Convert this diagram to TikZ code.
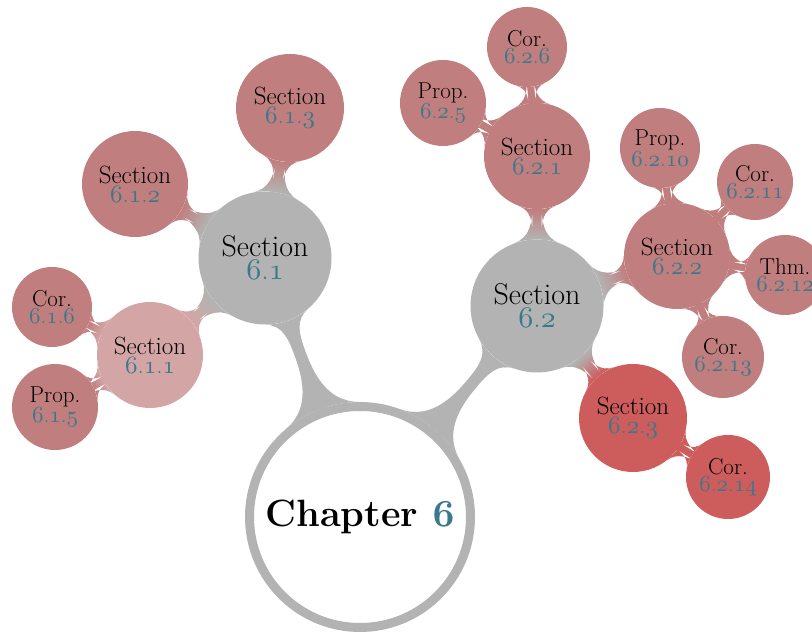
\documentclass[tikz,border=0pt]{standalone}
\usetikzlibrary{mindmap,backgrounds}

\DeclareFontFamily{OML}{oldcmm}{\skewchar\font=127}
\DeclareFontShape{OML}{oldcmm}{m}{it}{<->cmmi10}{}
\DeclareFontShape{OML}{oldcmm}{b}{it}{<->cmmib10}{}

\definecolor{secgray}{RGB}{179,179,179}
\definecolor{secpink}{RGB}{193,126,126}
\definecolor{secpale}{RGB}{212,165,165}
\definecolor{secred}{RGB}{205,92,92}
\definecolor{numblue}{RGB}{58,121,140}

% old style digits, plain dots
\makeatletter
\def\osn@dot{.}
\newcommand{\osnum}[1]{\textcolor{numblue}{\@tfor\osn@tok:=#1\do{%
  \ifx\osn@tok\osn@dot.\else{\usefont{OML}{oldcmm}{m}{it}\osn@tok}\fi}}}
\makeatother

\begin{document}
\begin{tikzpicture}[x=1pt,y=1pt,
  ball/.style={circle,inner sep=0pt,align=center,text=black},
  bigsec/.style={ball,minimum size=133pt,fill=secgray,font=\fontsize{30}{23}\selectfont},
  midsec/.style={ball,minimum size=106pt,font=\fontsize{25}{19}\selectfont},
  leaf/.style={ball,fill=secpink,font=\fontsize{23}{16.5}\selectfont},
  link/.style={line width=#1}]
  \useasboundingbox (0,0) rectangle (812,632);
  \clip (0,0) rectangle (812,632);

  \node [ball,minimum size=221pt,fill=white,draw=secgray,line width=9pt,
    font=\fontsize{38}{40}\selectfont\bfseries] (ch) at (360,115)
    {Chapter \textcolor{numblue}{\usefont{OML}{oldcmm}{b}{it}6}};

  \node [bigsec] (s61) at (265,374) {Section\\\osnum{6.1}};
  \node [bigsec] (s62) at (537,326) {Section\\\osnum{6.2}};

  \node [midsec,fill=secpale] (s611) at (150,277) {Section\\\osnum{6.1.1}};
  \node [midsec,fill=secpink] (s612) at (135,448) {Section\\\osnum{6.1.2}};
  \node [midsec,fill=secpink,minimum size=108pt] (s613) at (290,524) {Section\\\osnum{6.1.3}};
  \node [leaf,minimum size=80pt] (c616) at (52,325) {Cor.\\\osnum{6.1.6}};
  \node [leaf,minimum size=86pt] (p615) at (55,225) {Prop.\\\osnum{6.1.5}};

  \node [midsec,fill=secpink] (s621) at (537,476) {Section\\\osnum{6.2.1}};
  \node [leaf,minimum size=86pt] (p625) at (443,529) {Prop.\\\osnum{6.2.5}};
  \node [leaf,minimum size=80pt] (c626) at (527,585) {Cor.\\\osnum{6.2.6}};
  \node [midsec,fill=secpink] (s622) at (677,376) {Section\\\osnum{6.2.2}};
  \node [leaf,minimum size=80pt] (p6210) at (660,484) {Prop.\\\osnum{6.2.10}};
  \node [leaf,minimum size=76pt] (c6211) at (755,450) {Cor.\\\osnum{6.2.11}};
  \node [leaf,minimum size=80pt] (t6212) at (785,357) {Thm.\\\osnum{6.2.12}};
  \node [leaf,minimum size=82pt] (c6213) at (723,275) {Cor.\\\osnum{6.2.13}};
  \node [midsec,fill=secred,minimum size=108pt] (s623) at (633,214) {Section\\\osnum{6.2.3}};
  \node [leaf,fill=secred,minimum size=84pt] (c6214) at (728,155) {Cor.\\\osnum{6.2.14}};

  % bars behind the circles
  \begin{pgfonlayer}{background}
    \path [link=18pt] (ch) to[circle connection bar switch color=from (secgray) to (secgray)] (s61);
    \path [link=18pt] (ch) to[circle connection bar switch color=from (secgray) to (secgray)] (s62);
    \path [link=10pt] (s61) to[circle connection bar switch color=from (secgray) to (secpale)] (s611);
    \path [link=10pt] (s61) to[circle connection bar switch color=from (secgray) to (secpink)] (s612);
    \path [link=10pt] (s61) to[circle connection bar switch color=from (secgray) to (secpink)] (s613);
    \path [link=7pt] (s611) to[circle connection bar switch color=from (secpale) to (secpink)] (c616);
    \path [link=7pt] (s611) to[circle connection bar switch color=from (secpale) to (secpink)] (p615);
    \path [link=10pt] (s62) to[circle connection bar switch color=from (secgray) to (secpink)] (s621);
    \path [link=10pt] (s62) to[circle connection bar switch color=from (secgray) to (secpink)] (s622);
    \path [link=10pt] (s62) to[circle connection bar switch color=from (secgray) to (secred)] (s623);
    \path [link=7pt] (s621) to[circle connection bar switch color=from (secpink) to (secpink)] (p625);
    \path [link=7pt] (s621) to[circle connection bar switch color=from (secpink) to (secpink)] (c626);
    \path [link=7pt] (s622) to[circle connection bar switch color=from (secpink) to (secpink)] (p6210);
    \path [link=7pt] (s622) to[circle connection bar switch color=from (secpink) to (secpink)] (c6211);
    \path [link=7pt] (s622) to[circle connection bar switch color=from (secpink) to (secpink)] (t6212);
    \path [link=7pt] (s622) to[circle connection bar switch color=from (secpink) to (secpink)] (c6213);
    \path [link=7pt] (s623) to[circle connection bar switch color=from (secred) to (secred)] (c6214);
  \end{pgfonlayer}
\end{tikzpicture}
\end{document}
